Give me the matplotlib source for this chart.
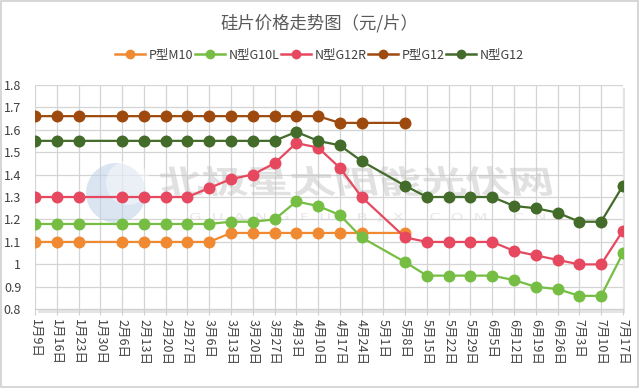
import matplotlib
matplotlib.use("Agg")
import matplotlib.pyplot as plt
import numpy as np
from matplotlib.lines import Line2D
from matplotlib.patches import Rectangle, PathPatch, Circle
from matplotlib.textpath import TextPath
from matplotlib.font_manager import FontProperties
from matplotlib import transforms

plt.rcParams['font.family'] = ['Noto Sans CJK SC', 'DejaVu Sans']

categories = ["1月9日", "1月16日", "1月23日", "1月30日", "2月6日", "2月13日", "2月20日",
              "2月27日", "3月6日", "3月13日", "3月20日", "3月27日", "4月3日", "4月10日",
              "4月17日", "4月24日", "5月1日", "5月8日", "5月15日", "5月22日", "5月29日",
              "6月5日", "6月12日", "6月19日", "6月26日", "7月3日", "7月10日", "7月17日"]

N = None
p_m10 = [1.10, 1.10, 1.10, N, 1.10, 1.10, 1.10, 1.10, 1.10, 1.14, 1.14, 1.14, 1.14, 1.14,
         1.14, 1.14, N, 1.14, N, N, N, N, N, N, N, N, N, N]
n_g10l = [1.18, 1.18, 1.18, N, 1.18, 1.18, 1.18, 1.18, 1.18, 1.19, 1.19, 1.20, 1.28, 1.26,
          1.22, 1.12, N, 1.01, 0.95, 0.95, 0.95, 0.95, 0.93, 0.90, 0.89, 0.86, 0.86, 1.05]
n_g12r = [1.30, 1.30, 1.30, N, 1.30, 1.30, 1.30, 1.30, 1.34, 1.38, 1.40, 1.45, 1.54, 1.52,
          1.43, 1.30, N, 1.12, 1.10, 1.10, 1.10, 1.10, 1.06, 1.04, 1.02, 1.00, 1.00, 1.15]
p_g12 = [1.66, 1.66, 1.66, N, 1.66, 1.66, 1.66, 1.66, 1.66, 1.66, 1.66, 1.66, 1.66, 1.66,
         1.63, 1.63, N, 1.63, N, N, N, N, N, N, N, N, N, N]
n_g12 = [1.55, 1.55, 1.55, N, 1.55, 1.55, 1.55, 1.55, 1.55, 1.55, 1.55, 1.55, 1.59, 1.55,
         1.53, 1.46, N, 1.35, 1.30, 1.30, 1.30, 1.30, 1.26, 1.25, 1.23, 1.19, 1.19, 1.35]

series_names = ["P型M10", "N型G10L", "N型G12R", "P型G12", "N型G12"]
series_values = [p_m10, n_g10l, n_g12r, p_g12, n_g12]
colors = ["#F08A32", "#76BE43", "#E6495F", "#9E4A0E", "#436B2A"]

W, H = 639, 388
fig = plt.figure(figsize=(W / 100, H / 100), dpi=100)
fig.patch.set_facecolor("white")
fig.patches.append(Rectangle((0.001, 0.002), 0.997, 0.995, transform=fig.transFigure,
                             fill=False, edgecolor="#D0D0D0", linewidth=1.2))

ax = fig.add_axes([0.0548, 0.2028, 0.920, 0.5789])
fig.patches.append(Rectangle((0.0548 + 0.004, 0.2028 - 0.009), 0.920, 0.5789,
                             transform=fig.transFigure, facecolor="#E4E4E4",
                             edgecolor="none", zorder=0))
ax.set_facecolor("white")
ax.set_zorder(1)

x = np.arange(len(categories))
for name, vals, c in zip(series_names, series_values, colors):
    xs = np.array([i for i, v in enumerate(vals) if v is not None])
    ys = np.array([v for v in vals if v is not None])
    ax.plot(xs, ys, color=c, linewidth=1.6, marker="o", markersize=8.6,
            markeredgewidth=0, zorder=3, label=name)

ax.set_xlim(0, len(categories) - 1)
ax.set_ylim(0.8, 1.8)
yt = np.round(np.arange(0.8, 1.81, 0.1), 1)
ax.set_yticks(yt)
ax.set_yticklabels([f"{v:g}" for v in yt], fontsize=9, color="#404040")
ax.set_xticks(x)
ax.set_xticklabels(categories, rotation=-90, fontsize=9, color="#404040",
                   va="top", ha="center")
ax.tick_params(axis="x", length=4, color="#D0D0D0", pad=3)
ax.tick_params(axis="y", length=0, pad=10)
ax.grid(True, color="#D4D4D4", linewidth=0.9, zorder=0)
for s in ax.spines.values():
    s.set_visible(False)
ax.spines["bottom"].set_visible(True)
ax.spines["bottom"].set_color("#D0D0D0")

# watermark (stretched, slanted text in pixel coordinates)
fp = FontProperties(family="Noto Sans CJK SC", weight="bold")
tp = TextPath((0, 0), "北极星太阳能光伏网", size=30, prop=fp)
bb = tp.get_extents()
sx = 390 / bb.width
sy = 30 / bb.height
tr = (transforms.Affine2D().translate(-bb.x0, -bb.y0).scale(sx, sy)
      .skew_deg(-12, 0).translate(163, H - 196))
ax.add_patch(PathPatch(tr.transform_path(tp), transform=transforms.IdentityTransform(),
                       facecolor="#BEBEBE", edgecolor="none", alpha=0.45, zorder=2,
                       clip_on=False))
tp2 = TextPath((0, 0), "G  U  A  N  G  F  U  .  B  J  X  .  C  O  M  .  C  N", size=10,
               prop=FontProperties(family="DejaVu Sans"))
bb2 = tp2.get_extents()
tr2 = (transforms.Affine2D().translate(-bb2.x0, -bb2.y0)
       .scale(355 / bb2.width, 9 / bb2.height).translate(190, H - 222))
ax.add_patch(PathPatch(tr2.transform_path(tp2), transform=transforms.IdentityTransform(),
                       facecolor="#D0D0D0", edgecolor="none", alpha=0.5, zorder=2,
                       clip_on=False))
ax.add_patch(Circle((116, H - 193), 30, transform=transforms.IdentityTransform(),
                    facecolor="#BFD0E8", edgecolor="none", alpha=0.55, zorder=2,
                    clip_on=False))
ax.add_patch(Circle((128, H - 183), 22, transform=transforms.IdentityTransform(),
                    facecolor="white", edgecolor="none", alpha=0.45, zorder=2,
                    clip_on=False))

fig.text(0.5, 1 - 23 / H, "硅片价格走势图（元/片）", ha="center", va="center",
         fontsize=12.5, color="#595959")

handles = [Line2D([0], [0], color=c, linewidth=1.8, marker="o", markersize=7,
                  markeredgewidth=0) for c in colors]
fig.legend(handles, series_names, loc="center", bbox_to_anchor=(0.5, 1 - 55 / H), ncol=5,
           frameon=False, fontsize=9, handlelength=2.4, handletextpad=0.3,
           columnspacing=0.1, labelcolor="#404040")

fig.savefig("out.png", dpi=100, facecolor="white")
